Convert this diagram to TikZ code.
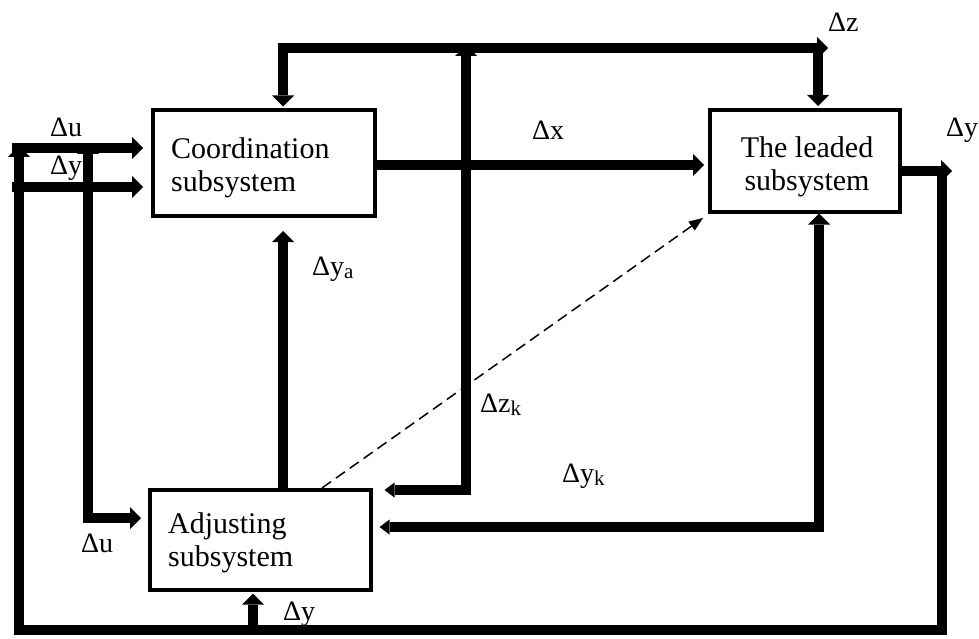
\documentclass[tikz,border=0pt]{standalone}
\usepackage{fontspec}
\setmainfont{Liberation Serif}
\usetikzlibrary{arrows.meta}
\newcommand\lowsub[1]{\raisebox{-3pt}{\fontsize{21}{21}\selectfont #1}}
\begin{document}
\begin{tikzpicture}[x=1pt,y=-1pt,
  sysbox/.style={draw, line width=4pt, inner sep=0pt},
  boxtext/.style={inner sep=0pt, font=\fontsize{30}{33}\selectfont},
  bigtip/.tip={Triangle[length=11pt,width=22pt,line width=0pt]},
  smalltip/.tip={Triangle[length=10pt,width=15pt,line width=0pt]},
  flow/.style={line width=9.5pt, line join=miter, -bigtip},
  lab/.style={font=\fontsize{28}{28}\selectfont, inner sep=0pt, anchor=base west},
  dashflow/.style={line width=1.5pt, dash pattern=on 11pt off 6pt,
    -{Triangle[length=14pt,width=11pt,line width=0pt]}}]
\useasboundingbox (0,0) rectangle (979,639);

% the three subsystems
\node[sysbox, minimum width=222pt, minimum height=105pt] (coord) at (264,163) {};
\node[sysbox, minimum width=190pt, minimum height=101.5pt] (lead) at (805,160.75) {};
\node[sysbox, minimum width=221pt, minimum height=99.5pt] (adj) at (260,539.75) {};
\node[boxtext, align=left, anchor=west] (coordtxt)
  at ([xshift=20pt,yshift=-5pt]coord.west) {Coordination\\subsystem};
\node[boxtext, align=center] (leadtxt)
  at ([xshift=2pt,yshift=-6pt]lead.center) {The leaded\\subsystem};
\node[boxtext, align=left, anchor=west] (adjtxt)
  at ([xshift=20.5pt,yshift=-3pt]adj.west) {Adjusting\\subsystem};

% junctions and free ends of the connectors
\coordinate (busL) at (283,48);
\coordinate (busM) at (466,48);
\coordinate (busMtip) at (466,45);
\coordinate (busR) at (818,48);
\coordinate (busEnd) at (828,48);
\coordinate (dxRow) at (0,165);
\coordinate (zkCorner) at (466,490);
\coordinate (ykCorner) at (819,527);
\coordinate (yaTip) at (283,231);
\coordinate (dashEnd) at (703,218);
\coordinate (outRow) at (0,171);
\coordinate (outCorner) at (942,171);
\coordinate (outEnd) at (952,171);
\coordinate (botR) at (942,630);
\coordinate (botL) at (19,630);
\coordinate (leftTop) at (19,146);
\coordinate (inTop) at (88,143);
\coordinate (inCorner) at (88,518);
\coordinate (uStart) at (12,148);
\coordinate (yStart) at (12,187);
\coordinate (botY) at (253,630);

% top bus
\draw[flow] (busM) -- (busL) -- ([yshift=2pt]coord.north -| busL);
\draw[flow] (busM) -- (busEnd);
\draw[flow] (busR) -- ([yshift=2pt]lead.north -| busR);

% coordination -> leaded
\draw[flow] (coord.east |- dxRow) -- ([xshift=-4pt]lead.west |- dxRow);

% adjusting -> coordination
\draw[flow] (adj.north -| yaTip) -- (yaTip);

% adjusting -> leaded (dashed)
\draw[dashflow] (adj.north -| 322,0) -- (dashEnd);

% adjusting output up to the bus, and back into the adjusting subsystem
\draw[line width=9.5pt, line join=miter, bigtip-smalltip]
  (busMtip) -- (zkCorner) -- ([xshift=12pt]adj.east |- zkCorner);

% leaded output back into the adjusting subsystem
\draw[line width=9.5pt, line join=miter, bigtip-smalltip]
  (lead.south -| ykCorner) -- (ykCorner) -- ([xshift=7pt]adj.east |- ykCorner);

% leaded output and the outer feedback loop
\draw[flow] (lead.east |- outRow) -- (outEnd);
\draw[flow] (outCorner) -- (botR) -- (botL) -- (leftTop);
\draw[flow] (botY) -- ([yshift=-2pt]adj.south -| botY);

% inputs on the left
\draw[flow] (uStart) -- ([xshift=-8pt]coord.west |- uStart);
\draw[flow] (yStart) -- ([xshift=-8pt]coord.west |- yStart);
\draw[line width=9.5pt, line join=miter, bigtip-bigtip]
  (inTop) -- (inCorner) -- ([xshift=-6.5pt]adj.west |- inCorner);

% signal labels
\node[lab] (lu1) at (50,137) {Δu};
\node[lab] (ly1) at (50,175) {Δy};
\node[lab] (lx) at (532,140) {Δx};
\node[lab] (lz) at (828,32) {Δz};
\node[lab] (lyout) at (946,137) {Δy};
\node[lab] (lya) at (312,275) {Δy\lowsub{a}};
\node[lab] (lzk) at (480,412) {Δz\lowsub{k}};
\node[lab] (lyk) at (562,482) {Δy\lowsub{k}};
\node[lab] (lu2) at (81,552) {Δu};
\node[lab] (ly2) at (283,620) {Δy};
\end{tikzpicture}
\end{document}
